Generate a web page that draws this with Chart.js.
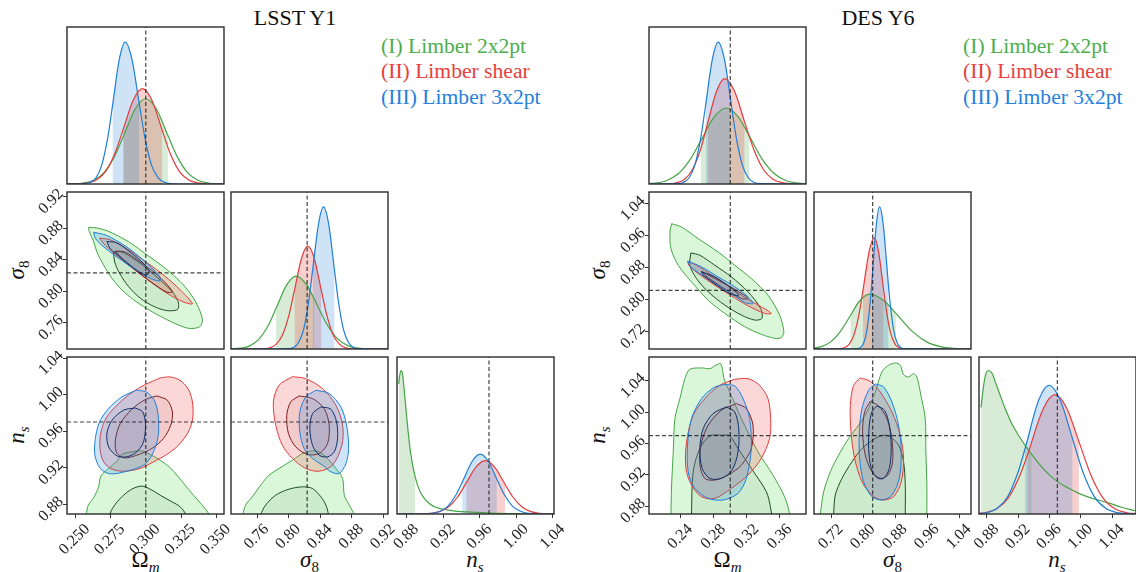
<!DOCTYPE html>
<html><head><meta charset="utf-8">
<script src="https://cdn.jsdelivr.net/npm/chart.js@4.4.1/dist/chart.umd.min.js"></script>
<style>
body{margin:0;background:#fff;}
#root{position:relative;width:1136px;height:572px;overflow:hidden;font-family:'Liberation Serif',serif;background:#fff;}
canvas{position:absolute;}
.t{position:absolute;white-space:nowrap;transform:translate(-50%,-50%);color:#111;}
.title{font-size:22px;}
.lab{font-size:23px;}
.lab sub{font-size:15px;vertical-align:-5px;}
.ylab{transform:translate(-50%,-50%) rotate(-90deg);}
.leg{position:absolute;font-size:21.6px;line-height:25.5px;white-space:nowrap;}
</style></head><body><div id="root">
<div class="t title" style="left:295px;top:18px">LSST Y1</div>
<div class="t title" style="left:878px;top:18px">DES Y6</div>
<div class="leg" style="left:381px;top:33.5px">
<div style="color:#4cae4c">(I) Limber 2x2pt</div>
<div style="color:#e8403c">(II) Limber shear</div>
<div style="color:#2680dc">(III) Limber 3x2pt</div>
</div>
<div class="leg" style="left:963px;top:33.5px">
<div style="color:#4cae4c">(I) Limber 2x2pt</div>
<div style="color:#e8403c">(II) Limber shear</div>
<div style="color:#2680dc">(III) Limber 3x2pt</div>
</div>
<div class="t lab" style="left:145.5px;top:561px">Ω<sub><i>m</i></sub></div>
<div class="t lab" style="left:309.5px;top:561px"><i>σ</i><sub>8</sub></div>
<div class="t lab" style="left:475px;top:561px"><i>n</i><sub><i>s</i></sub></div>
<div class="t lab" style="left:727.5px;top:561px">Ω<sub><i>m</i></sub></div>
<div class="t lab" style="left:892.5px;top:561px"><i>σ</i><sub>8</sub></div>
<div class="t lab" style="left:1057px;top:561px"><i>n</i><sub><i>s</i></sub></div>
<div class="t lab ylab" style="left:18px;top:270px"><i>σ</i><sub>8</sub></div>
<div class="t lab ylab" style="left:18px;top:435px"><i>n</i><sub><i>s</i></sub></div>
<div class="t lab ylab" style="left:599px;top:270px"><i>σ</i><sub>8</sub></div>
<div class="t lab ylab" style="left:599px;top:435px"><i>n</i><sub><i>s</i></sub></div>
</div>
<script>
// ---------- axis ranges, truths, ticks ----------
const L_RANGE_OM = [0.2441, 0.3555];
const L_RANGE_S8 = [0.727, 0.926];
const L_RANGE_NS = [0.8694, 1.0411];
const R_RANGE_OM = [0.2019, 0.3914];
const R_RANGE_S8 = [0.6767, 1.0695];
const R_RANGE_NS = [0.8698, 1.0706];
const TRUTH_OM = 0.3, TRUTH_S8 = 0.8235, TRUTH_NS = 0.97;
const L_TICKS_OM = [0.25, 0.275, 0.3, 0.325, 0.35];
const L_LABELS_OM = ['0.250', '0.275', '0.300', '0.325', '0.350'];
const L_TICKS_S8 = [0.76, 0.80, 0.84, 0.88, 0.92];
const L_LABELS_S8 = ['0.76', '0.80', '0.84', '0.88', '0.92'];
const L_TICKS_NS = [0.88, 0.92, 0.96, 1.00, 1.04];
const L_LABELS_NS = ['0.88', '0.92', '0.96', '1.00', '1.04'];
const R_TICKS_OM = [0.24, 0.28, 0.32, 0.36];
const R_LABELS_OM = ['0.24', '0.28', '0.32', '0.36'];
const R_TICKS_S8 = [0.72, 0.80, 0.88, 0.96, 1.04];
const R_LABELS_S8 = ['0.72', '0.80', '0.88', '0.96', '1.04'];
const R_TICKS_NS = [0.88, 0.92, 0.96, 1.00, 1.04];
const R_LABELS_NS = ['0.88', '0.92', '0.96', '1.00', '1.04'];

// ---------- 1D marginals (x, relative height) and 68% intervals ----------
const L_OM_G = [[0.2441,0],[0.2482,0.001],[0.2556,0.006],[0.2630,0.024],[0.2704,0.073],[0.2778,0.176],[0.2843,0.309],[0.2926,0.479],[0.3000,0.543],[0.3074,0.479],[0.3157,0.309],[0.3222,0.176],[0.3296,0.073],[0.3370,0.024],[0.3444,0.006],[0.3518,0.001],[0.3555,0]];
const L_OM_G_INT = [0.2843, 0.3157];
const L_OM_R = [[0.2441,0],[0.2522,0.001],[0.2587,0.007],[0.2652,0.027],[0.2717,0.082],[0.2782,0.197],[0.2839,0.346],[0.2912,0.536],[0.2977,0.607],[0.3042,0.536],[0.3115,0.346],[0.3172,0.197],[0.3237,0.082],[0.3302,0.027],[0.3367,0.007],[0.3432,0.001],[0.3555,0]];
const L_OM_R_INT = [0.2839, 0.3115];
const L_OM_B = [[0.2441,0],[0.2522,0],[0.2605,0.010],[0.2647,0.040],[0.2688,0.122],[0.2730,0.294],[0.2764,0.499],[0.2813,0.798],[0.2854,0.904],[0.2901,0.798],[0.2953,0.515],[0.2994,0.294],[0.3040,0.122],[0.3087,0.040],[0.3133,0.010],[0.3226,0],[0.3555,0]];
const L_OM_B_INT = [0.2764, 0.2953];

const L_S8_G = [[0.727,0.001],[0.7390,0.005],[0.7508,0.020],[0.7625,0.063],[0.7743,0.151],[0.7841,0.259],[0.7978,0.410],[0.8095,0.464],[0.8228,0.410],[0.8328,0.315],[0.8493,0.151],[0.8625,0.063],[0.8758,0.020],[0.8890,0.005],[0.9023,0.001],[0.926,0]];
const L_S8_G_INT = [0.7841, 0.8328];
const L_S8_R = [[0.727,0],[0.7680,0.001],[0.7761,0.007],[0.7842,0.029],[0.7922,0.089],[0.8003,0.213],[0.8074,0.373],[0.8164,0.578],[0.8244,0.655],[0.8325,0.578],[0.8415,0.373],[0.8486,0.213],[0.8566,0.089],[0.8647,0.029],[0.8727,0.007],[0.8808,0.001],[0.926,0]];
const L_S8_R_INT = [0.8074, 0.8415];
const L_S8_B = [[0.727,0],[0.8000,0.002],[0.8062,0.010],[0.8125,0.040],[0.8189,0.122],[0.8252,0.294],[0.8307,0.512],[0.8380,0.799],[0.8443,0.905],[0.8507,0.799],[0.8583,0.496],[0.8634,0.294],[0.8697,0.122],[0.8761,0.040],[0.8824,0.010],[0.8888,0.002],[0.926,0]];
const L_S8_B_INT = [0.8307, 0.8583];

const L_NS_G = [[0.8712,0.829],[0.8723,0.880],[0.8738,0.914],[0.8752,0.900],[0.8774,0.782],[0.8803,0.600],[0.8840,0.400],[0.8891,0.240],[0.8949,0.140],[0.9058,0.062],[0.9240,0.026],[0.9458,0.013],[0.9713,0.006],[1.0041,0.002],[1.0411,0]];
const L_NS_G_INT = [0.8712, 0.8891];
const L_NS_R = [[0.8694,0],[0.8959,0.001],[0.9059,0.004],[0.9159,0.015],[0.9259,0.046],[0.9359,0.110],[0.9451,0.198],[0.9559,0.300],[0.9659,0.340],[0.9759,0.300],[0.9877,0.188],[0.9959,0.110],[1.0059,0.046],[1.0159,0.015],[1.0259,0.004],[1.0359,0.001],[1.0411,0]];
const L_NS_R_INT = [0.9451, 0.9877];
const L_NS_B = [[0.8694,0],[0.8992,0.001],[0.9079,0.004],[0.9167,0.017],[0.9254,0.052],[0.9342,0.124],[0.9407,0.202],[0.9517,0.336],[0.9604,0.381],[0.9692,0.336],[0.9786,0.222],[0.9867,0.124],[0.9954,0.052],[1.0042,0.017],[1.0129,0.004],[1.0217,0.001],[1.0411,0]];
const L_NS_B_INT = [0.9407, 0.9786];

const R_OM_G = [[0.2019,0.003],[0.2082,0.005],[0.2227,0.021],[0.2372,0.065],[0.2517,0.157],[0.2642,0.273],[0.2807,0.427],[0.2952,0.484],[0.3097,0.427],[0.3233,0.302],[0.3387,0.157],[0.3532,0.065],[0.3677,0.021],[0.3822,0.005],[0.3914,0.001]];
const R_OM_G_INT = [0.2642, 0.3233];
const R_OM_R = [[0.2019,0],[0.2250,0.001],[0.2347,0.007],[0.2445,0.029],[0.2542,0.091],[0.2640,0.218],[0.2731,0.395],[0.2835,0.592],[0.2932,0.671],[0.3050,0.592],[0.3173,0.395],[0.3285,0.218],[0.3402,0.091],[0.3520,0.029],[0.3637,0.007],[0.3755,0.001],[0.3914,0]];
const R_OM_R_INT = [0.2731, 0.3173];
const R_OM_B = [[0.2019,0],[0.2362,0.002],[0.2432,0.010],[0.2503,0.040],[0.2573,0.122],[0.2644,0.294],[0.2702,0.500],[0.2785,0.798],[0.2855,0.904],[0.2928,0.798],[0.2996,0.566],[0.3073,0.294],[0.3145,0.122],[0.3218,0.040],[0.3290,0.010],[0.3363,0.002],[0.3914,0]];
const R_OM_B_INT = [0.2702, 0.2996];

const R_S8_G = [[0.6767,0.006],[0.6951,0.015],[0.7192,0.047],[0.7434,0.114],[0.7675,0.212],[0.7917,0.309],[0.8158,0.350],[0.8512,0.309],[0.8816,0.227],[0.9220,0.114],[0.9574,0.047],[0.9928,0.015],[1.0282,0.004],[1.0636,0.001],[1.0695,0]];
const R_S8_G_INT = [0.7675, 0.8816];
const R_S8_R = [[0.6767,0],[0.7400,0.002],[0.7525,0.008],[0.7650,0.031],[0.7775,0.096],[0.7900,0.230],[0.7992,0.373],[0.8150,0.625],[0.8275,0.708],[0.8379,0.625],[0.8508,0.378],[0.8587,0.230],[0.8691,0.096],[0.8795,0.031],[0.8899,0.008],[0.9003,0.002],[1.0695,0]];
const R_S8_R_INT = [0.7992, 0.8508];
const R_S8_B = [[0.6767,0],[0.7855,0.002],[0.7934,0.010],[0.8013,0.040],[0.8092,0.122],[0.8171,0.294],[0.8216,0.435],[0.8329,0.799],[0.8408,0.905],[0.8496,0.799],[0.8633,0.394],[0.8671,0.294],[0.8758,0.122],[0.8846,0.040],[0.8933,0.010],[0.9021,0.002],[1.0695,0]];
const R_S8_B_INT = [0.8216, 0.8633];

const R_NS_G = [[0.8724,0.679],[0.8753,0.803],[0.8783,0.889],[0.8826,0.914],[0.8868,0.893],[0.8911,0.835],[0.8966,0.760],[0.9030,0.675],[0.9115,0.578],[0.9201,0.503],[0.9286,0.439],[0.9371,0.380],[0.9499,0.300],[0.9605,0.246],[0.9712,0.203],[0.9840,0.165],[0.9967,0.133],[1.0138,0.101],[1.0351,0.071],[1.0521,0.043],[1.0692,0.021]];
const R_NS_G_INT = [0.8724, 0.9371];
const R_NS_R = [[0.8698,0.004],[0.8775,0.008],[0.8924,0.033],[0.9073,0.103],[0.9222,0.247],[0.9316,0.374],[0.9520,0.671],[0.9669,0.760],[0.9823,0.671],[0.9976,0.461],[1.0130,0.247],[1.0283,0.103],[1.0437,0.033],[1.0590,0.008],[1.0706,0.002]];
const R_NS_R_INT = [0.9316, 0.9976];
const R_NS_B = [[0.8698,0.002],[0.8801,0.009],[0.8933,0.036],[0.9065,0.111],[0.9197,0.266],[0.9286,0.414],[0.9461,0.724],[0.9593,0.820],[0.9738,0.724],[0.9895,0.478],[1.0028,0.266],[1.0173,0.111],[1.0318,0.036],[1.0463,0.009],[1.0608,0.002],[1.0706,0.001]];
const R_NS_B_INT = [0.9286, 0.9895];

// ---------- 2D contours (95% outer, 68% inner) ----------
const L_OMS8_G95 = [[0.2594,0.8812],[0.2653,0.8804],[0.2724,0.8770],[0.2807,0.8700],[0.2901,0.8604],[0.2996,0.8479],[0.3078,0.8374],[0.3173,0.8241],[0.3267,0.8082],[0.3338,0.7916],[0.3385,0.7749],[0.3402,0.7624],[0.3380,0.7549],[0.3303,0.7532],[0.3196,0.7603],[0.3102,0.7686],[0.3007,0.7782],[0.2913,0.7895],[0.2830,0.8020],[0.2760,0.8166],[0.2701,0.8333],[0.2653,0.8499],[0.2630,0.8633],[0.2599,0.8758]];
const L_OMS8_G68 = [[0.2771,0.8499],[0.2830,0.8499],[0.2913,0.8416],[0.3007,0.8291],[0.3102,0.8145],[0.3196,0.7978],[0.3232,0.7853],[0.3225,0.7770],[0.3149,0.7757],[0.3055,0.7811],[0.2960,0.7916],[0.2878,0.8062],[0.2814,0.8229],[0.2779,0.8374]];
const L_OMS8_R95 = [[0.2672,0.8675],[0.2748,0.8654],[0.2866,0.8541],[0.2984,0.8395],[0.3102,0.8241],[0.3220,0.8062],[0.3331,0.7845],[0.3267,0.7866],[0.3149,0.7978],[0.3031,0.8124],[0.2913,0.8283],[0.2807,0.8437],[0.2712,0.8583]];
const L_OMS8_R68 = [[0.2783,0.8512],[0.2854,0.8499],[0.2960,0.8374],[0.3078,0.8216],[0.3189,0.7999],[0.3149,0.7991],[0.3043,0.8112],[0.2937,0.8258],[0.2842,0.8395]];
const L_OMS8_B95 = [[0.2630,0.8750],[0.2724,0.8708],[0.2866,0.8562],[0.2984,0.8395],[0.3090,0.8208],[0.3102,0.8133],[0.3031,0.8166],[0.2913,0.8291],[0.2795,0.8437],[0.2689,0.8583],[0.2642,0.8675]];
const L_OMS8_B68 = [[0.2724,0.8633],[0.2795,0.8616],[0.2889,0.8499],[0.2984,0.8354],[0.3026,0.8241],[0.2996,0.8208],[0.2913,0.8299],[0.2819,0.8437],[0.2748,0.8541]];

const L_OMNS_G95 = [[0.2578,0.860],[0.2578,0.8682],[0.2592,0.8791],[0.2630,0.8871],[0.2665,0.8991],[0.2682,0.9111],[0.2736,0.9192],[0.2795,0.9272],[0.2830,0.9345],[0.2901,0.9374],[0.2972,0.9385],[0.3031,0.9345],[0.3102,0.9283],[0.3173,0.9199],[0.3225,0.9111],[0.3279,0.9010],[0.3338,0.8900],[0.3397,0.8798],[0.3451,0.8682],[0.3451,0.860]];
const L_OMNS_G68 = [[0.2743,0.860],[0.2743,0.8682],[0.2771,0.8773],[0.2830,0.8882],[0.2901,0.8966],[0.2972,0.8999],[0.3031,0.8966],[0.3102,0.8900],[0.3185,0.8828],[0.3244,0.8773],[0.3286,0.8682],[0.3286,0.860]];
const L_OMNS_R95 = [[0.3102,1.0182],[0.3173,1.0193],[0.3243,1.0156],[0.3302,1.0058],[0.3331,0.9920],[0.3333,0.9738],[0.3302,0.9592],[0.3232,0.9446],[0.3149,0.9345],[0.3055,0.9264],[0.2960,0.9192],[0.2854,0.9162],[0.2760,0.9184],[0.2701,0.9264],[0.2675,0.9410],[0.2682,0.9592],[0.2724,0.9756],[0.2807,0.9901],[0.2901,1.0021],[0.2996,1.0109]];
const L_OMNS_R68 = [[0.3078,0.9985],[0.3153,0.9938],[0.3189,0.9810],[0.3177,0.9665],[0.3125,0.9519],[0.3043,0.9410],[0.2937,0.9337],[0.2842,0.9308],[0.2790,0.9374],[0.2786,0.9519],[0.2819,0.9683],[0.2901,0.9840],[0.2996,0.9945]];
const L_OMNS_B95 = [[0.2937,1.0051],[0.3012,1.0022],[0.3066,0.9920],[0.3090,0.9738],[0.3085,0.9519],[0.3043,0.9337],[0.2984,0.9228],[0.2866,0.9162],[0.2748,0.9133],[0.2677,0.9192],[0.2639,0.9337],[0.2642,0.9519],[0.2672,0.9701],[0.2736,0.9847],[0.2830,0.9974]];
const L_OMNS_B68 = [[0.2925,0.9854],[0.2979,0.9810],[0.2998,0.9665],[0.2984,0.9483],[0.2937,0.9374],[0.2866,0.9319],[0.2795,0.9330],[0.2736,0.9428],[0.2724,0.9574],[0.2760,0.9719],[0.2842,0.9829]];

const L_S8NS_G95 = [[0.7421,0.860],[0.7421,0.8682],[0.7455,0.8791],[0.7540,0.8882],[0.7646,0.9010],[0.7752,0.9119],[0.7879,0.9192],[0.8049,0.9283],[0.8155,0.9345],[0.8261,0.9381],[0.8367,0.9381],[0.8473,0.9319],[0.8600,0.9192],[0.8685,0.9082],[0.8706,0.8900],[0.8769,0.8791],[0.8833,0.8682],[0.8833,0.860]];
const L_S8NS_G68 = [[0.7646,0.860],[0.7646,0.8682],[0.7709,0.8791],[0.7837,0.8900],[0.8006,0.8966],[0.8176,0.8991],[0.8303,0.8973],[0.8409,0.8882],[0.8473,0.8791],[0.8506,0.8682],[0.8506,0.860]];
const L_S8NS_R95 = [[0.8049,1.0196],[0.8218,1.0174],[0.8430,1.0065],[0.8600,0.9883],[0.8685,0.9665],[0.8676,0.9446],[0.8557,0.9228],[0.8388,0.9162],[0.8218,0.9192],[0.8049,0.9301],[0.7921,0.9446],[0.7837,0.9665],[0.7807,0.9920],[0.7879,1.0102]];
const L_S8NS_R68 = [[0.8133,0.9985],[0.8303,0.9956],[0.8451,0.9847],[0.8515,0.9665],[0.8494,0.9465],[0.8388,0.9356],[0.8239,0.9345],[0.8091,0.9428],[0.7998,0.9574],[0.7977,0.9774],[0.8027,0.9920]];
const L_S8NS_B95 = [[0.8345,1.0047],[0.8515,1.0011],[0.8663,0.9865],[0.8735,0.9665],[0.8761,0.9410],[0.8727,0.9246],[0.8642,0.9137],[0.8536,0.9155],[0.8430,0.9228],[0.8303,0.9301],[0.8197,0.9410],[0.8142,0.9592],[0.8142,0.9810],[0.8218,0.9974]];
const L_S8NS_B68 = [[0.8409,0.9865],[0.8536,0.9840],[0.8608,0.9701],[0.8621,0.9519],[0.8579,0.9374],[0.8494,0.9319],[0.8388,0.9337],[0.8303,0.9446],[0.8269,0.9628],[0.8303,0.9792]];

const R_OMS8_G95 = [[0.2292,0.9902],[0.2412,0.9818],[0.2612,0.9528],[0.2853,0.9195],[0.3054,0.8863],[0.3254,0.8530],[0.3455,0.8115],[0.3595,0.7616],[0.3647,0.7201],[0.3615,0.7051],[0.3535,0.7035],[0.3374,0.7134],[0.3174,0.7325],[0.2933,0.7658],[0.2733,0.7990],[0.2532,0.8447],[0.2372,0.8863],[0.2284,0.9278],[0.2272,0.9694]];
const R_OMS8_G68 = [[0.2524,0.9170],[0.2633,0.9112],[0.2813,0.8863],[0.3013,0.8572],[0.3214,0.8198],[0.3366,0.7783],[0.3382,0.7533],[0.3294,0.7491],[0.3134,0.7616],[0.2933,0.7866],[0.2733,0.8198],[0.2592,0.8530],[0.2512,0.8863]];
const R_OMS8_R95 = [[0.2484,0.8963],[0.2592,0.8863],[0.2793,0.8597],[0.2993,0.8323],[0.3194,0.8032],[0.3374,0.7824],[0.3495,0.7658],[0.3414,0.7658],[0.3214,0.7849],[0.3013,0.8098],[0.2813,0.8364],[0.2612,0.8655],[0.2500,0.8863]];
const R_OMS8_R68 = [[0.2653,0.8713],[0.2853,0.8489],[0.3094,0.8215],[0.3214,0.8032],[0.3134,0.8032],[0.2893,0.8323],[0.2693,0.8614]];
const R_OMS8_B95 = [[0.2492,0.8963],[0.2653,0.8821],[0.2853,0.8572],[0.3054,0.8323],[0.3214,0.8073],[0.3274,0.7907],[0.3174,0.7932],[0.3013,0.8156],[0.2813,0.8406],[0.2612,0.8680],[0.2512,0.8846]];
const R_OMS8_B68 = [[0.2653,0.8697],[0.2813,0.8572],[0.2993,0.8323],[0.3102,0.8115],[0.3013,0.8132],[0.2833,0.8364],[0.2673,0.8614]];

const R_OMNS_G95 = [[0.2284,0.860],[0.2284,0.8685],[0.2292,0.9068],[0.2312,0.9494],[0.2332,0.9919],[0.2392,1.0174],[0.2452,1.0429],[0.2512,1.0549],[0.2653,1.0566],[0.2753,1.0557],[0.2813,1.0591],[0.2885,1.0621],[0.2925,1.0429],[0.2993,1.0259],[0.3134,0.9919],[0.3334,0.9494],[0.3515,0.9196],[0.3655,0.8919],[0.3715,0.8706],[0.3715,0.860]];
const R_OMNS_G68 = [[0.2532,0.860],[0.2532,0.8685],[0.2552,0.9238],[0.2633,0.9536],[0.2753,0.9698],[0.2893,0.9706],[0.2993,0.9698],[0.3094,0.9536],[0.3254,0.9281],[0.3435,0.8983],[0.3487,0.8770],[0.3487,0.860]];
const R_OMNS_R95 = [[0.3054,1.0421],[0.3214,1.0429],[0.3354,1.0344],[0.3455,1.0174],[0.3487,0.9919],[0.3475,0.9664],[0.3374,0.9409],[0.3214,0.9196],[0.3013,0.9026],[0.2813,0.8898],[0.2653,0.8919],[0.2532,0.9068],[0.2464,0.9281],[0.2472,0.9621],[0.2552,0.9962],[0.2693,1.0174],[0.2873,1.0344]];
const R_OMNS_R68 = [[0.3074,1.0110],[0.3194,1.0047],[0.3274,0.9834],[0.3254,0.9536],[0.3134,0.9323],[0.2973,0.9196],[0.2813,0.9132],[0.2693,0.9153],[0.2633,0.9323],[0.2645,0.9579],[0.2733,0.9834],[0.2893,1.0025]];
const R_OMNS_B95 = [[0.2913,1.0353],[0.3054,1.0336],[0.3154,1.0174],[0.3234,0.9919],[0.3254,0.9536],[0.3194,0.9153],[0.3094,0.8962],[0.2913,0.8877],[0.2733,0.8898],[0.2572,0.9026],[0.2492,0.9238],[0.2484,0.9579],[0.2532,0.9919],[0.2653,1.0174],[0.2793,1.0310]];
const R_OMNS_B68 = [[0.2953,1.0068],[0.3054,1.0004],[0.3102,0.9791],[0.3094,0.9494],[0.3022,0.9260],[0.2893,0.9153],[0.2753,0.9153],[0.2661,0.9281],[0.2633,0.9536],[0.2673,0.9791],[0.2793,0.9983]];

const R_S8NS_G95 = [[0.6925,0.860],[0.6925,0.8685],[0.7009,0.8983],[0.7175,0.9238],[0.7383,0.9451],[0.7633,0.9664],[0.7883,0.9834],[0.8091,1.0004],[0.8300,1.0259],[0.8466,1.0515],[0.8633,1.0600],[0.8800,1.0629],[0.8925,1.0600],[0.9008,1.0481],[0.9133,1.0451],[0.9258,1.0493],[0.9341,1.0451],[0.9425,1.0259],[0.9549,0.9919],[0.9566,0.9494],[0.9591,0.9068],[0.9591,0.8685],[0.9591,0.860]];
const R_S8NS_G68 = [[0.7258,0.860],[0.7258,0.8685],[0.7300,0.8940],[0.7467,0.9153],[0.7717,0.9366],[0.7967,0.9536],[0.8300,0.9664],[0.8508,0.9706],[0.8675,0.9685],[0.8883,0.9579],[0.9008,0.9366],[0.9050,0.9068],[0.9050,0.8685],[0.9050,0.860]];
const R_S8NS_R95 = [[0.7925,1.0438],[0.8175,1.0395],[0.8425,1.0259],[0.8716,1.0004],[0.8925,0.9706],[0.9008,0.9409],[0.8950,0.9111],[0.8758,0.8919],[0.8466,0.8877],[0.8216,0.8940],[0.7967,0.9111],[0.7783,0.9409],[0.7692,0.9749],[0.7675,1.0089],[0.7758,1.0344]];
const R_S8NS_R68 = [[0.8175,1.0140],[0.8383,1.0081],[0.8591,0.9919],[0.8716,0.9664],[0.8733,0.9366],[0.8616,0.9196],[0.8425,0.9153],[0.8216,0.9238],[0.8050,0.9451],[0.7983,0.9749],[0.8033,1.0004]];
const R_S8NS_B95 = [[0.8300,1.0361],[0.8508,1.0323],[0.8716,1.0132],[0.8883,0.9834],[0.8950,0.9494],[0.8900,0.9153],[0.8716,0.8940],[0.8466,0.8877],[0.8216,0.8919],[0.8008,0.9111],[0.7908,0.9409],[0.7900,0.9749],[0.7967,1.0047],[0.8133,1.0281]];
const R_S8NS_B68 = [[0.8341,1.0081],[0.8533,1.0025],[0.8650,0.9834],[0.8700,0.9536],[0.8650,0.9281],[0.8508,0.9153],[0.8341,0.9162],[0.8200,0.9281],[0.8133,0.9536],[0.8150,0.9834],[0.8216,1.0004]];

// ---------- styles ----------
const C = {
  g: '#45a445', r: '#e23c3c', b: '#1f7fd9',
  gIn: '#1d4f1d', rIn: '#7d1b1b', bIn: '#10306a',
  gFill: 'rgba(100,220,100,0.24)', rFill: 'rgba(240,80,80,0.23)', bFill: 'rgba(30,136,229,0.22)',
  gFillIn: 'rgba(30,80,30,0.07)', rFillIn: 'rgba(120,25,25,0.07)', bFillIn: 'rgba(15,45,105,0.07)',
  gShade: 'rgba(71,164,71,0.22)', rShade: 'rgba(224,58,58,0.24)', bShade: 'rgba(30,127,216,0.22)'
};
const ROOT = document.getElementById('root');
const framePlugin = { id: 'frame', afterDraw(chart) {
  const a = chart.chartArea, c = chart.ctx; c.save(); c.strokeStyle = '#2b2b2b'; c.lineWidth = 1.4;
  c.strokeRect(a.left, a.top, a.right - a.left, a.bottom - a.top); c.restore(); } };

function xy(pts) { return pts.map(p => ({x: p[0], y: p[1]})); }
function poly(pts, line, fillc) {
  const d = xy(pts); d.push({x: pts[0][0], y: pts[0][1]});
  return {data: d, borderColor: line, backgroundColor: fillc, fill: 'shape', borderWidth: 1, pointRadius: 0, tension: 0.3};
}
function curve(pts, line) {
  return {data: xy(pts), borderColor: line, borderWidth: 1.2, fill: false, pointRadius: 0, cubicInterpolationMode: 'monotone'};
}
function shade(pts, iv, col) {
  const d = xy(pts.filter(p => p[0] >= iv[0] - 1e-9 && p[0] <= iv[1] + 1e-9));
  return {data: d, borderWidth: 0, borderColor: 'rgba(0,0,0,0)', backgroundColor: col, fill: 'origin', pointRadius: 0, cubicInterpolationMode: 'monotone'};
}
function vline(x, yr) { return {data: [{x: x, y: yr[0]}, {x: x, y: yr[1]}], borderColor: 'rgba(20,20,20,0.8)', borderWidth: 1.2, borderDash: [4, 2.5], pointRadius: 0, fill: false}; }
function hline(y, xr) { return {data: [{x: xr[0], y: y}, {x: xr[1], y: y}], borderColor: 'rgba(20,20,20,0.8)', borderWidth: 1.2, borderDash: [4, 2.5], pointRadius: 0, fill: false}; }

function axis(which, range, tk, lb) {
  const show = !!tk;
  let off = 0;
  if (show) off = which === 'x' ? (lb[0].length > 4 ? 12 : 9.5) : -5;
  return {
    type: 'linear', position: which === 'x' ? 'bottom' : 'left', min: range[0], max: range[1],
    border: {display: false},
    grid: {display: show, drawOnChartArea: false, drawTicks: true, tickLength: 4, color: '#333', lineWidth: 1},
    ticks: {display: show, autoSkip: false, minRotation: 45, maxRotation: 45, padding: 2, color: '#222', labelOffset: off,
      font: {family: 'Liberation Serif', size: 16}, callback: (v, i) => show ? lb[i] : ''},
    afterBuildTicks: s => { if (show) s.ticks = tk.map(v => ({value: v})); },
    afterFit: s => { if (which === 'x') s.height = 55; else s.width = 55;
      s.paddingLeft = 0; s.paddingRight = 0; s.paddingTop = 0; s.paddingBottom = 0; }
  };
}
function panel(px, py, xr, yr, xt, xl, yt, yl, sets) {
  const M = 55, P = 6, PR = 30, S = 157;
  const cv = document.createElement('canvas');
  cv.width = M + S + PR; cv.height = P + S + M;
  cv.style.left = (px - M) + 'px'; cv.style.top = (py - P) + 'px';
  ROOT.appendChild(cv);
  sets.forEach((d, i) => { d.order = 100 - i; });
  new Chart(cv, {
    type: 'line', data: {datasets: sets},
    options: {responsive: false, animation: false, devicePixelRatio: 1, events: [],
      layout: {autoPadding: false, padding: {left: 0, top: P, right: PR, bottom: 0}},
      plugins: {legend: {display: false}, tooltip: {enabled: false}},
      scales: {x: axis('x', xr, xt, xl), y: axis('y', yr, yt, yl)}},
    plugins: [framePlugin]
  });
}
function diag(px, py, xr, truth, G, GI, R, RI, B, BI, xt, xl) {
  panel(px, py, xr, [0, 1], xt, xl, null, null, [
    shade(G, GI, C.gShade), shade(R, RI, C.rShade), shade(B, BI, C.bShade),
    curve(G, C.g), curve(R, C.r), curve(B, C.b), vline(truth, [0, 1])]);
}
function pair(px, py, xr, yr, tx, ty, G95, G68, R95, R68, B95, B68, xt, xl, yt, yl) {
  panel(px, py, xr, yr, xt, xl, yt, yl, [
    poly(G95, C.g, C.gFill), poly(G68, C.gIn, C.gFillIn),
    poly(R95, C.r, C.rFill), poly(R68, C.rIn, C.rFillIn),
    poly(B95, C.b, C.bFill), poly(B68, C.bIn, C.bFillIn),
    vline(tx, yr), hline(ty, xr)]);
}

const LX = [67, 231, 397], RX = [649, 814, 979], ROWY = [27, 192, 357];

// LSST Y1
diag(LX[0], ROWY[0], L_RANGE_OM, TRUTH_OM, L_OM_G, L_OM_G_INT, L_OM_R, L_OM_R_INT, L_OM_B, L_OM_B_INT, null, null);
pair(LX[0], ROWY[1], L_RANGE_OM, L_RANGE_S8, TRUTH_OM, TRUTH_S8, L_OMS8_G95, L_OMS8_G68, L_OMS8_R95, L_OMS8_R68, L_OMS8_B95, L_OMS8_B68, null, null, L_TICKS_S8, L_LABELS_S8);
diag(LX[1], ROWY[1], L_RANGE_S8, TRUTH_S8, L_S8_G, L_S8_G_INT, L_S8_R, L_S8_R_INT, L_S8_B, L_S8_B_INT, null, null);
pair(LX[0], ROWY[2], L_RANGE_OM, L_RANGE_NS, TRUTH_OM, TRUTH_NS, L_OMNS_G95, L_OMNS_G68, L_OMNS_R95, L_OMNS_R68, L_OMNS_B95, L_OMNS_B68, L_TICKS_OM, L_LABELS_OM, L_TICKS_NS, L_LABELS_NS);
pair(LX[1], ROWY[2], L_RANGE_S8, L_RANGE_NS, TRUTH_S8, TRUTH_NS, L_S8NS_G95, L_S8NS_G68, L_S8NS_R95, L_S8NS_R68, L_S8NS_B95, L_S8NS_B68, L_TICKS_S8, L_LABELS_S8, null, null);
diag(LX[2], ROWY[2], L_RANGE_NS, TRUTH_NS, L_NS_G, L_NS_G_INT, L_NS_R, L_NS_R_INT, L_NS_B, L_NS_B_INT, L_TICKS_NS, L_LABELS_NS);

// DES Y6
diag(RX[0], ROWY[0], R_RANGE_OM, TRUTH_OM, R_OM_G, R_OM_G_INT, R_OM_R, R_OM_R_INT, R_OM_B, R_OM_B_INT, null, null);
pair(RX[0], ROWY[1], R_RANGE_OM, R_RANGE_S8, TRUTH_OM, TRUTH_S8, R_OMS8_G95, R_OMS8_G68, R_OMS8_R95, R_OMS8_R68, R_OMS8_B95, R_OMS8_B68, null, null, R_TICKS_S8, R_LABELS_S8);
diag(RX[1], ROWY[1], R_RANGE_S8, TRUTH_S8, R_S8_G, R_S8_G_INT, R_S8_R, R_S8_R_INT, R_S8_B, R_S8_B_INT, null, null);
pair(RX[0], ROWY[2], R_RANGE_OM, R_RANGE_NS, TRUTH_OM, TRUTH_NS, R_OMNS_G95, R_OMNS_G68, R_OMNS_R95, R_OMNS_R68, R_OMNS_B95, R_OMNS_B68, R_TICKS_OM, R_LABELS_OM, R_TICKS_NS, R_LABELS_NS);
pair(RX[1], ROWY[2], R_RANGE_S8, R_RANGE_NS, TRUTH_S8, TRUTH_NS, R_S8NS_G95, R_S8NS_G68, R_S8NS_R95, R_S8NS_R68, R_S8NS_B95, R_S8NS_B68, R_TICKS_S8, R_LABELS_S8, null, null);
diag(RX[2], ROWY[2], R_RANGE_NS, TRUTH_NS, R_NS_G, R_NS_G_INT, R_NS_R, R_NS_R_INT, R_NS_B, R_NS_B_INT, R_TICKS_NS, R_LABELS_NS);
</script></body></html>
